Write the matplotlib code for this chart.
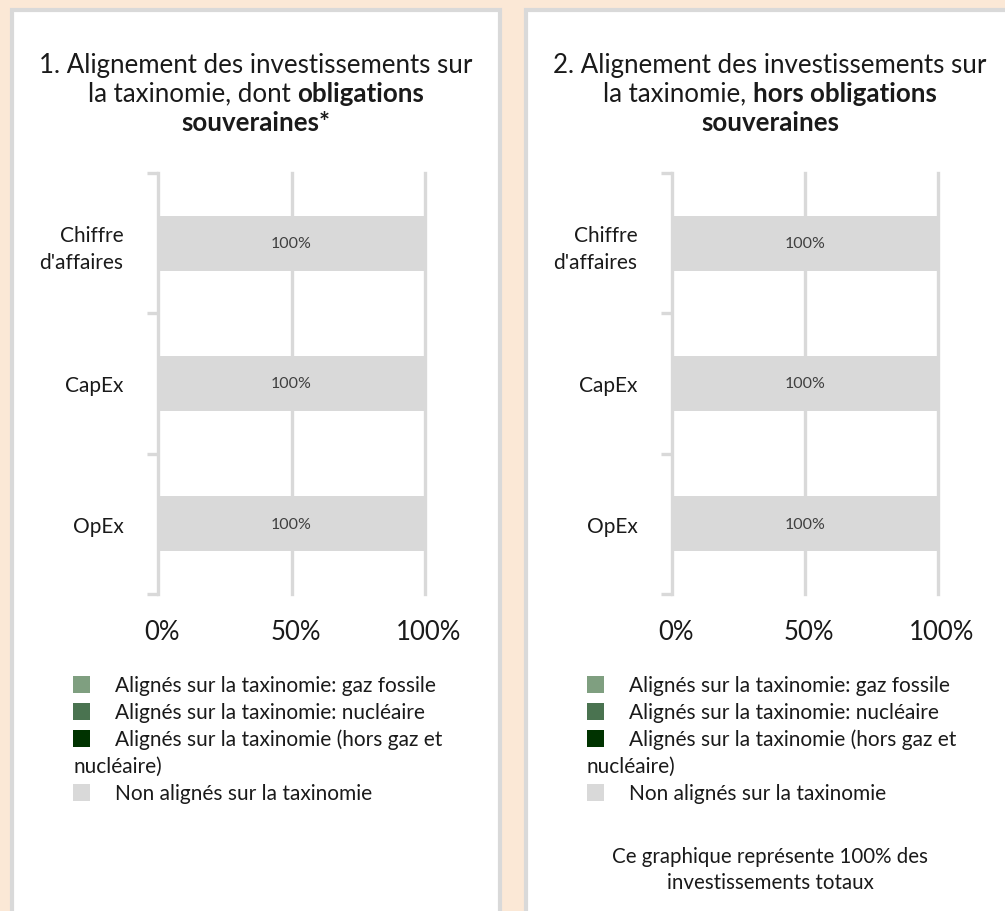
import matplotlib
matplotlib.use("Agg")
import matplotlib.pyplot as plt
import matplotlib.transforms as mtransforms
from matplotlib.patches import Rectangle

# ---------------- data ----------------
categories = ["Chiffre\nd'affaires", "CapEx", "OpEx"]
series_names = [
    "Alignés sur la taxinomie: gaz fossile",
    "Alignés sur la taxinomie: nucléaire",
    "Alignés sur la taxinomie (hors gaz et\nnucléaire)",
    "Non alignés sur la taxinomie",
]
series_colors = ["#7f9f80", "#4a7350", "#003300", "#d9d9d9"]
# values per panel, per series (in %), order of categories
panel1_values = [[0, 0, 0], [0, 0, 0], [0, 0, 0], [100, 100, 100]]
panel2_values = [[0, 0, 0], [0, 0, 0], [0, 0, 0], [100, 100, 100]]
xticks = [0, 50, 100]
xtick_labels = ["0%", "50%", "100%"]
title1 = [[("1. Alignement des investissements sur", "normal")],
          [("la taxinomie, dont ", "normal"), ("obligations", "bold")],
          [("souveraines*", "bold")]]
title2 = [[("2. Alignement des investissements sur", "normal")],
          [("la taxinomie, ", "normal"), ("hors obligations", "bold")],
          [("souveraines", "bold")]]
footer2 = "Ce graphique représente 100% des\ninvestissements totaux"

# ---------------- layout ----------------
W, H = 1005, 912
FONT = "Lato"
plt.rcParams["font.family"] = [FONT, "DejaVu Sans"]
BG = "#fbe8d6"
GRID = "#d9d9d9"
TXT = "#1a1a1a"

fig = plt.figure(figsize=(W / 100, H / 100), dpi=100, facecolor=BG)

def fx(x):
    return x / W

def fy(y):
    return 1 - y / H

# panels
for (x0, x1) in [(12, 500), (526, 1015)]:
    fig.patches.append(Rectangle((fx(x0), fy(930)), fx(x1) - fx(x0), fy(11) - fy(930),
                                 transform=fig.transFigure, facecolor="white",
                                 edgecolor=GRID, linewidth=3, zorder=-5))

renderer = fig.canvas.get_renderer()

def mixed_line(cx, cy, segs, size):
    texts = []
    widths = []
    for s, w in segs:
        t = fig.text(0, fy(cy), s, fontsize=size, fontweight=w, color=TXT,
                     ha="left", va="center", fontfamily=[FONT, "DejaVu Sans"])
        bb = t.get_window_extent(renderer=renderer)
        texts.append(t)
        widths.append(bb.width)
    total = sum(widths)
    x = cx - total / 2
    for t, w in zip(texts, widths):
        t.set_x(fx(x))
        x += w

LEG_FS = 15

def draw_panel(ax_left, ax_right, values, title, title_cx, leg_x):
    ax = fig.add_axes([fx(ax_left), fy(595), fx(ax_right) - fx(ax_left), fy(174) - fy(595)])
    ax.set_facecolor("none")
    ax.set_zorder(2)
    ypos = list(range(len(categories)))
    left = [0] * len(categories)
    for vals, col in zip(values, series_colors):
        bars = ax.barh(ypos, vals, left=left, height=55 / 140, color=col, zorder=3)
        for b, v in zip(bars, vals):
            if v > 0:
                ax.text(b.get_x() + b.get_width() / 2, b.get_y() + b.get_height() / 2,
                        f"{v:.0f}%", ha="center", va="center", fontsize=11.5,
                        color="#404040", zorder=4)
        left = [l + v for l, v in zip(left, vals)]
    ax.set_xlim(0, 100)
    ax.set_ylim(len(categories) - 0.5, -0.5)
    for xv in xticks[1:]:
        ax.axvline(xv, color=GRID, linewidth=2.4, zorder=1, clip_on=False)
    for s in ["top", "right", "bottom"]:
        ax.spines[s].set_visible(False)
    ax.spines["left"].set_color(GRID)
    ax.spines["left"].set_linewidth(2.4)
    # category boundaries as major ticks
    ax.set_yticks([i - 0.5 for i in range(len(categories) + 1)])
    ax.set_yticklabels([])
    ax.tick_params(axis="y", which="major", length=8, width=2.4, color=GRID)
    ax.set_yticks(ypos, minor=True)
    ax.set_yticklabels(categories, minor=True, fontsize=15, color=TXT, ha="right",
                       multialignment="right", linespacing=1.4)
    ax.tick_params(axis="y", which="minor", length=0, pad=25)
    ax.set_xticks(xticks)
    ax.set_xticklabels(xtick_labels, fontsize=18.5, color=TXT)
    ax.tick_params(axis="x", length=0, pad=18)
    shift = mtransforms.ScaledTranslation(4 / 100, 0, fig.dpi_scale_trans)
    for lab in ax.get_xticklabels():
        lab.set_transform(lab.get_transform() + shift)
    # title
    for i, segs in enumerate(title):
        mixed_line(title_cx, 65 + 29 * i, segs, 18.6)
    # legend
    row = 0
    for name, col in zip(series_names, series_colors):
        y = 686 + 27 * row
        fig.patches.append(Rectangle((fx(leg_x), fy(y + 8)), fx(17), 17 / H,
                                     transform=fig.transFigure, facecolor=col,
                                     edgecolor="none", zorder=2))
        parts = name.split("\n")
        fig.text(fx(leg_x + 42), fy(y), parts[0], fontsize=LEG_FS, color=TXT,
                 ha="left", va="center")
        row += 1
        for p in parts[1:]:
            fig.text(fx(leg_x), fy(686 + 27 * row), p, fontsize=LEG_FS, color=TXT,
                     ha="left", va="center")
            row += 1
    return ax

draw_panel(158, 425, panel1_values, title1, 256, 73)
draw_panel(672, 938, panel2_values, title2, 770, 587)

for i, line in enumerate(footer2.split("\n")):
    fig.text(fx(770), fy(857 + 26 * i), line, fontsize=14.8, color=TXT,
             ha="center", va="center")

fig.savefig("out.png", dpi=100, facecolor=BG)
